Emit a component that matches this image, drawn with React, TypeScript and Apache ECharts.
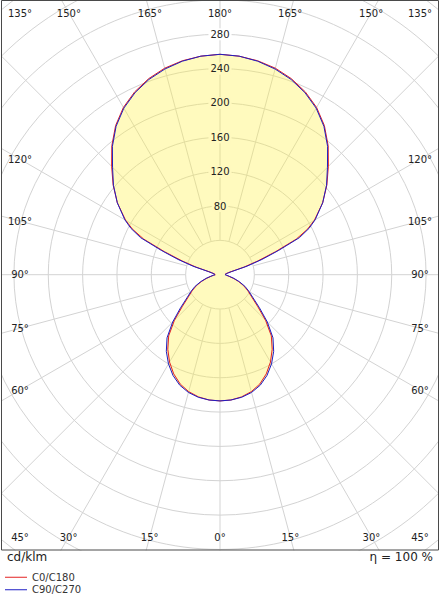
import React, { useEffect, useRef } from 'react';
import * as echarts from 'echarts';

// ---------- data (cd/klm) ----------
const GAMMA = [0, 5, 10, 15, 20, 25, 30, 35, 40, 45, 50, 55, 60, 65, 70, 75, 80, 85, 90, 95, 100, 102.5, 105, 107.5, 110, 112.5, 115, 117.5, 120, 125, 130, 135, 140, 145, 150, 155, 160, 165, 170, 175, 180];
const C0_C180 = [147, 146.5, 144.5, 141, 135.5, 127.5, 117.5, 106, 93, 75, 57, 45, 37.5, 30.5, 23, 16, 10.5, 7.5, 5.5, 6, 7, 9, 12, 29, 47, 70, 98, 115, 127, 146, 162.5, 178.5, 196, 212, 225, 235, 243, 249, 253, 255.5, 256.7];
const C90_C270 = [147, 146.5, 145, 142, 137, 129.5, 120, 109, 96, 78, 60, 47, 39, 32, 24, 17, 11, 8, 5.8, 6.5, 8, 10, 14, 33, 52, 74, 102, 117, 128, 146, 162, 177, 195, 211, 224, 234, 242, 248, 252.5, 255.5, 256.7];
const SERIES_NAMES = ['C0/C180', 'C90/C270'];
const RING_LABELS = [80, 120, 160, 200, 240, 280];
const ANGLE_LABELS = [0, 15, 30, 45, 60, 75, 90, 105, 120, 135, 150, 165, 180];
const UNIT_TEXT = 'cd/klm';
const EFFICIENCY_TEXT = 'η = 100 %';

// ---------- layout / style ----------
const CX = 220;
const CY = 274.7;
const PX_PER_UNIT = 0.8586;
const R_MAX = 440;
const R_INNER = 40;
const RING_STEP = 40;
const INSET = { left: 20, right: 420, top: 13, bottom: 537 };
const FONT = 'DejaVu Sans, Verdana, sans-serif';
const GRID_COLOR = '#d3d3d3';
const FILL_COLOR = 'rgb(255,240,70)';
const FILL_OPACITY = 0.35;
const FILL_SEEN = 'rgb(255,249,190)';
const RED = '#e32222';
const BLUE = '#1e1ec4';

function toPolar(vals: number[]) {
  const left = GAMMA.map((g, i) => [vals[i], g]);
  const right = GAMMA.slice(0, -1).map((g, i) => [vals[i], 360 - g]).reverse();
  return left.concat(right);
}

function labelPos(g: number, side: number) {
  const a = (g * Math.PI) / 180;
  const dx = Math.sin(a) * side;
  const dy = Math.cos(a);
  const clamp = (v: number, lo: number, hi: number) => Math.max(lo, Math.min(hi, v));
  if (Math.abs(dy) >= Math.abs(dx) - 1e-9) {
    const yy = dy > 0 ? INSET.bottom : INSET.top;
    const t = (yy - CY) / dy;
    return [clamp(CX + dx * t, INSET.left, INSET.right), yy];
  }
  const xx = dx > 0 ? INSET.right : INSET.left;
  const t = (xx - CX) / dx;
  return [xx, clamp(CY + dy * t, INSET.top, INSET.bottom)];
}

export default function App() {
  const ref = useRef<HTMLDivElement>(null);
  useEffect(() => {
    if (!ref.current) return;
    const chart = echarts.init(ref.current, null, { renderer: 'svg' });
    const R_PX = R_MAX * PX_PER_UNIT;
    const R0_PX = R_INNER * PX_PER_UNIT;
    const peak = C90_C270[GAMMA.indexOf(180)];
    const union = C0_C180.map((v, i) => Math.max(v, C90_C270[i]));

    const angleTexts: any[] = [];
    ANGLE_LABELS.forEach((g) => {
      const sides = g === 0 || g === 180 ? [1] : [-1, 1];
      sides.forEach((s) => {
        const [x, y] = labelPos(g, s);
        angleTexts.push({
          type: 'text',
          z: 52,
          x,
          y,
          style: { text: g + '°', fill: '#222', font: `10px ${FONT}`, align: 'center', verticalAlign: 'middle' },
        });
      });
    });

    const labelRich = (bg: string) => ({
      backgroundColor: bg,
      padding: [1, 2],
      fontSize: 10,
      fontFamily: FONT,
      color: '#222',
    });

    chart.setOption({
      animation: false,
      backgroundColor: '#fff',
      polar: [
        { center: [CX, CY], radius: [0, R_PX] },
        { center: [CX, CY], radius: [R0_PX, R_PX] },
      ],
      angleAxis: [
        {
          polarIndex: 0, type: 'value', min: 0, max: 360, startAngle: 270, clockwise: true,
          axisLine: { show: false }, axisTick: { show: false }, axisLabel: { show: false }, splitLine: { show: false },
        },
        {
          polarIndex: 1, type: 'value', min: 0, max: 360, interval: 15, startAngle: 90, clockwise: true, z: 0,
          axisLine: { show: false }, axisTick: { show: false }, axisLabel: { show: false },
          splitLine: { show: true, lineStyle: { color: GRID_COLOR, width: 1 } },
        },
      ],
      radiusAxis: [
        {
          polarIndex: 0, type: 'value', min: 0, max: R_MAX, interval: RING_STEP, z: 0,
          axisLine: { show: false }, axisTick: { show: false }, axisLabel: { show: false },
          splitLine: { show: true, lineStyle: { color: GRID_COLOR, width: 1 } },
        },
        {
          polarIndex: 1, type: 'value', min: R_INNER, max: R_MAX, interval: RING_STEP, z: 10,
          axisLine: { show: false }, axisTick: { show: false }, splitLine: { show: false },
          axisLabel: {
            show: true, margin: 0, align: 'center', verticalAlign: 'middle',
            formatter: (v: number) => (RING_LABELS.includes(v) ? (v < peak ? `{y|${v}}` : `{w|${v}}`) : ''),
            rich: { y: labelRich(FILL_SEEN), w: labelRich('#fff') },
          },
        },
      ],
      legend: {
        data: SERIES_NAMES,
        orient: 'vertical',
        left: 5,
        top: 571,
        padding: 0,
        icon: 'rect',
        itemWidth: 22,
        itemHeight: 1,
        itemGap: 0,
        z: 60,
        textStyle: { fontSize: 10, fontFamily: FONT, color: '#333', lineHeight: 12.5 },
      },
      series: [
        {
          name: 'fill', type: 'line', coordinateSystem: 'polar', polarIndex: 0, data: toPolar(union),
          symbol: 'none', z: 2, silent: true,
          lineStyle: { width: 0, opacity: 0 },
          areaStyle: { color: FILL_COLOR, opacity: FILL_OPACITY },
        },
        {
          name: SERIES_NAMES[0], type: 'line', coordinateSystem: 'polar', polarIndex: 0, data: toPolar(C0_C180),
          symbol: 'none', z: 3, color: RED, lineStyle: { color: RED, width: 1 },
        },
        {
          name: SERIES_NAMES[1], type: 'line', coordinateSystem: 'polar', polarIndex: 0, data: toPolar(C90_C270),
          symbol: 'none', z: 4, color: BLUE, lineStyle: { color: BLUE, width: 1 },
        },
      ],
      graphic: [
        { type: 'rect', z: 50, shape: { x: 0, y: 550.5, width: 440, height: 50 }, style: { fill: '#fff' } },
        { type: 'rect', z: 50, shape: { x: 0, y: 0, width: 1, height: 550 }, style: { fill: '#fff' } },
        { type: 'rect', z: 50, shape: { x: 439, y: 0, width: 1, height: 550 }, style: { fill: '#fff' } },
        { type: 'rect', z: 51, shape: { x: 1.5, y: 0.5, width: 437, height: 549.5 }, style: { fill: 'none', stroke: '#4a4a4a', lineWidth: 1 } },
        { type: 'text', z: 52, x: 7, y: 557, style: { text: UNIT_TEXT, fill: '#222', font: `12px ${FONT}`, align: 'left', verticalAlign: 'middle' } },
        { type: 'text', z: 52, x: 433, y: 557, style: { text: EFFICIENCY_TEXT, fill: '#222', font: `12px ${FONT}`, align: 'right', verticalAlign: 'middle' } },
        ...angleTexts,
      ],
    });
    return () => chart.dispose();
  }, []);
  return <div ref={ref} style={{ position: 'fixed', left: 0, top: 0, width: 440, height: 600 }} />;
}
